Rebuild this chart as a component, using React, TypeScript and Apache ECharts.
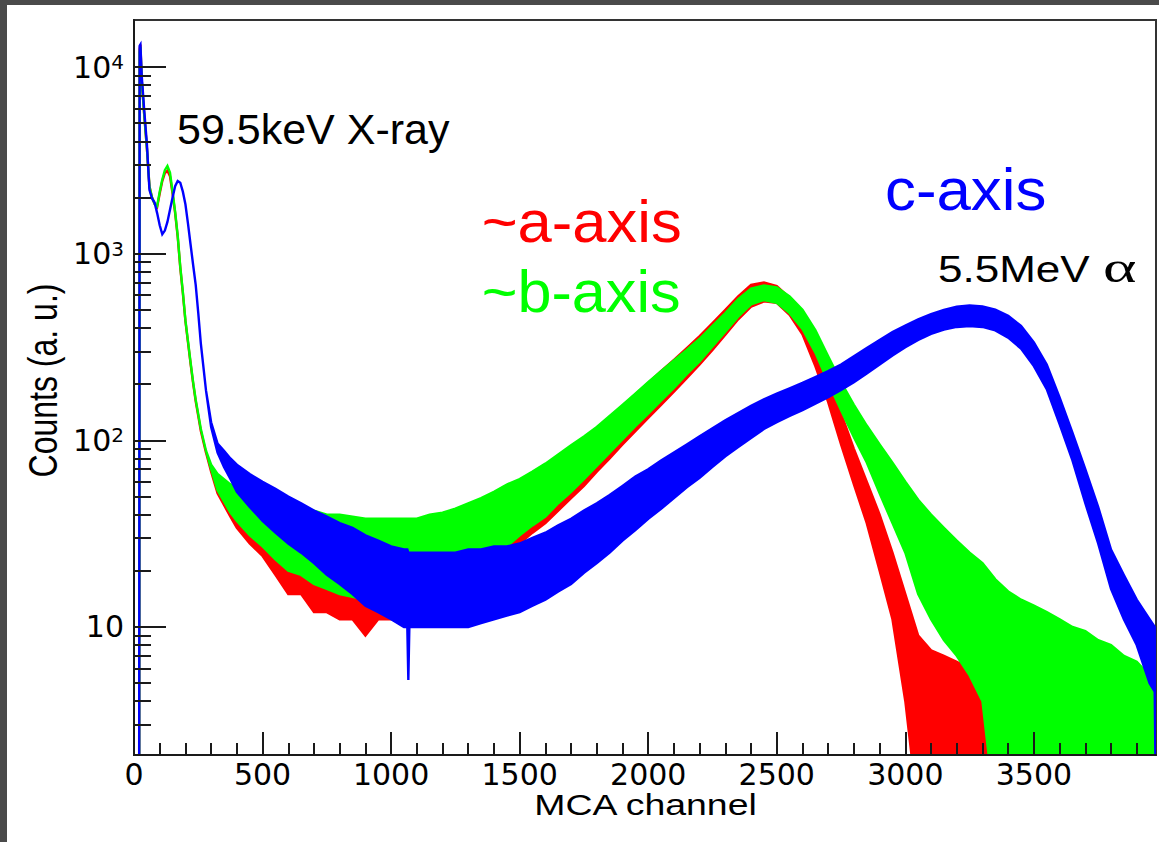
import React, { useEffect, useRef } from "react";
import * as echarts from "echarts";

// MCA channel grid (shared by all three spectra)
const channels = [
  0, 20, 22, 25, 30, 40, 50, 60, 70, 80,
  90, 100, 110, 120, 130, 140, 150, 160, 170, 180,
  190, 200, 210, 220, 230, 240, 250, 260, 280, 300,
  325, 350, 375, 400, 450, 500, 550, 600, 650, 700,
  750, 800, 850, 900, 950, 1000, 1050, 1063, 1067, 1071,
  1100, 1150, 1200,
  1250, 1300, 1350, 1400, 1450, 1500, 1550, 1600, 1650, 1700,
  1750, 1800, 1850, 1900, 1950, 2000, 2050, 2100, 2150, 2200,
  2250, 2300, 2350, 2400, 2450, 2500, 2550, 2600, 2650, 2700,
  2750, 2800, 2850, 2900, 2950, 3000, 3050, 3100, 3150, 3200,
  3250, 3300, 3350, 3400, 3450, 3500, 3550, 3600, 3650, 3700,
  3750, 3800, 3850, 3900, 3950, 3970, 3975,
];

// ~a-axis (red): lower / upper edge of the noisy histogram band
const redLow = [
  1, 1, 12500, 13200, 8500, 5500, 3700, 2300, 2000, 1850,
  1780, 2100, 2450, 2700, 2780, 2600, 2100, 1650, 1230, 840,
  615, 435, 335, 258, 202, 162, 135, 112, 86, 68,
  52, 45, 39, 34, 28, 24, 19, 15, 15, 12,
  12, 11, 11, 9, 11, 11, 11.5, 11.5, 11.5, 11.5,
  12, 13, 14,
  15, 17, 19, 22, 25, 28, 32, 36, 42, 49,
  57, 68, 80, 95, 112, 132, 155, 182, 215, 255,
  305, 368, 445, 520, 555, 545, 470, 370, 250, 160,
  95, 58, 36, 20, 11, 4, 1, 1, 1, 1,
  1, 1, 1, 1, 1, 1, 1, 1, 1, 1,
  1, 1, 1, 1, 1, 1, 1,
];
const redHigh = [
  1, 1, 12500, 13200, 8500, 5500, 3700, 2300, 2000, 1850,
  1780, 2100, 2450, 2700, 2780, 2600, 2100, 1650, 1230, 840,
  615, 435, 335, 258, 202, 162, 135, 112, 86, 72,
  64, 60, 56, 53, 49, 46, 43, 41, 40, 39,
  38, 37, 37, 36, 36, 36, 36, 36, 36, 36,
  37, 38, 39,
  41, 44, 47, 51, 56, 60, 66, 72, 81, 91,
  102, 115, 132, 152, 176, 203, 235, 270, 312, 362,
  425, 500, 590, 680, 700, 670, 580, 470, 330, 220,
  140, 90, 60, 40, 25, 15, 9, 7.5, 7, 6.5,
  6, 5, 4, 3.7, 3.5, 3.2, 2.6, 2.8, 2.2, 2.8,
  1.5, 1, 1, 1, 1, 1, 1,
];

// ~b-axis (green)
const greenLow = [
  1, 1, 12000, 12800, 8500, 5500, 3700, 2300, 2000, 1850,
  1800, 2150, 2500, 2800, 2950, 2720, 2150, 1680, 1250, 850,
  625, 440, 340, 262, 205, 165, 138, 115, 88, 70,
  54, 47, 41, 37, 31, 27, 23, 20, 19, 17,
  16, 15, 14.5, 14, 14, 14, 14, 14, 14, 14,
  14, 15, 16,
  17, 19, 21, 24, 27, 31, 35, 39, 46, 53,
  62, 73, 86, 101, 119, 139, 163, 191, 226, 265,
  318, 382, 460, 535, 565, 545, 480, 395, 295, 205,
  145, 104, 76, 52, 36, 25, 15, 11, 8.5, 7,
  5.5, 4, 1, 1, 1, 1, 1, 1, 1, 1,
  1, 1, 1, 1, 1, 1, 1,
];
const greenHigh = [
  1, 1, 12000, 12800, 8500, 5500, 3700, 2300, 2000, 1850,
  1800, 2150, 2500, 2800, 2950, 2720, 2150, 1680, 1250, 850,
  625, 440, 340, 262, 205, 165, 138, 115, 88, 74,
  66, 62, 58, 56, 52, 48, 46, 45, 42, 42,
  40, 40, 39, 38, 38, 38, 38, 38, 38, 38,
  38, 40, 41,
  43, 46, 49, 53, 58, 62, 68, 75, 84, 94,
  105, 118, 135, 155, 178, 205, 235, 268, 305, 350,
  410, 480, 570, 650, 675, 660, 590, 500, 390, 282,
  205, 155, 120, 95, 76, 60, 48, 40, 34, 29,
  25, 22, 18, 15.5, 14, 13, 12, 11, 10, 9.5,
  8.5, 8, 7, 6.5, 5.5, 5, 1,
];

// c-axis (blue)
const blueLow = [
  1, 1, 13000, 13200, 9000, 5800, 3900, 2200, 1980, 1880,
  1650, 1420, 1270, 1330, 1480, 1720, 2000, 2300, 2450, 2400,
  2150, 1840, 1450, 1120, 870, 680, 480, 330, 185, 118,
  86, 72, 62, 53, 44, 37, 32, 28, 25, 22,
  19, 17, 15, 13, 12, 11, 10, 10, 5.2, 10,
  10, 10, 10,
  10, 10, 10.5, 11, 11.5, 12, 13, 14, 15.5, 17,
  19.5, 22, 25, 29, 33, 38, 43, 49, 56, 63,
  72, 82, 92, 103, 115, 125, 135, 145, 157, 170,
  186, 205, 228, 255, 285, 315, 345, 372, 392, 405,
  410, 405, 388, 355, 310, 250, 188, 122, 78, 46,
  28, 16, 11, 8, 5, 4.5, 1,
];
const blueHigh = [
  1, 1, 13000, 13200, 9000, 5800, 3900, 2200, 1980, 1880,
  1650, 1420, 1270, 1330, 1480, 1720, 2000, 2300, 2450, 2400,
  2150, 1840, 1450, 1120, 870, 680, 480, 330, 185, 125,
  96, 88, 80, 74, 66, 60, 55, 50, 46, 42,
  39, 36, 34, 31, 29, 27, 26, 26, 25, 25,
  25, 25, 25,
  25, 26, 26, 27, 27, 28, 30, 32, 35, 38,
  42, 46, 51, 57, 64, 70, 78, 86, 95, 105,
  116, 128, 140, 153, 166, 178, 190, 203, 218, 235,
  255, 282, 312, 345, 380, 412, 445, 475, 500, 520,
  528, 522, 502, 465, 410, 335, 255, 170, 110, 70,
  44, 26, 19, 14, 11, 10, 1,
];

// Axis ticks
const xMajorTicks = [0, 500, 1000, 1500, 2000, 2500, 3000, 3500];
const xMinorTicks = [
  100, 200, 300, 400, 600, 700, 800, 900, 1100, 1200, 1300, 1400,
  1600, 1700, 1800, 1900, 2100, 2200, 2300, 2400, 2600, 2700, 2800, 2900,
  3100, 3200, 3300, 3400, 3600, 3700, 3800, 3900,
];
const yMajorTicks = [10, 100, 1000, 10000];
const yMinorTicks = [
  3, 4, 5, 6, 7, 8, 9,
  20, 30, 40, 50, 60, 70, 80, 90,
  200, 300, 400, 500, 600, 700, 800, 900,
  2000, 3000, 4000, 5000, 6000, 7000, 8000, 9000,
];

const X_MIN = 0;
const X_MAX = 3975;
const Y_MIN = 2.06;
const Y_MAX = 17870;

const AXIS_COLOR = "#1a1a1a";

function bandSeries(name: string, color: string, lo: number[], hi: number[]) {
  return {
    type: "custom",
    name,
    clip: true,
    xAxisIndex: 0,
    yAxisIndex: 0,
    z: 2,
    data: channels.map((c, i) => [c, lo[i], hi[i]]),
    encode: { x: 0, y: [1, 2] },
    renderItem: (params: any, api: any) => {
      if (params.dataIndex !== 0) return null;
      const upper = channels.map((c, i) => api.coord([c, hi[i]]));
      const lower = channels.map((c, i) => api.coord([c, lo[i]])).reverse();
      return {
        type: "polygon",
        shape: { points: upper.concat(lower) },
        style: { fill: color, stroke: color, lineWidth: 2.4, lineJoin: "miter" },
      };
    },
  };
}

function txt(
  text: string,
  x: number,
  y: number,
  fontSize: number,
  color: string,
  opts: any = {}
) {
  const align = opts.align || "left";
  return {
    type: "text",
    x,
    y,
    z: 20,
    scaleX: opts.scaleX || 1,
    scaleY: opts.scaleY || 1,
    rotation: opts.rotation || 0,
    style: {
      text,
      fontSize,
      fontFamily: opts.fontFamily || "Liberation Sans",
      fill: color,
      align,
      verticalAlign: "middle",
      textAlign: align,
      textVerticalAlign: "middle",
    },
  };
}

export default function App() {
  const ref = useRef<HTMLDivElement>(null);

  useEffect(() => {
    document.body.style.margin = "0";
    if (!ref.current) return;
    const chart = echarts.init(ref.current, null, { renderer: "svg" });

    const tickLine = { color: AXIS_COLOR, width: 2 };

    chart.setOption({
      animation: false,
      backgroundColor: "#ffffff",
      grid: {
        left: 134,
        right: 3,
        top: 20,
        bottom: 87,
        show: true,
        borderColor: "#333333",
        borderWidth: 2,
        backgroundColor: "transparent",
      },
      xAxis: [
        {
          type: "value",
          min: X_MIN,
          max: X_MAX,
          position: "bottom",
          z: 10,
          axisLine: { show: true, onZero: false, lineStyle: { color: AXIS_COLOR, width: 2 } },
          axisTick: {
            show: true,
            inside: true,
            length: 23,
            customValues: xMajorTicks,
            lineStyle: tickLine,
          },
          axisLabel: {
            show: true,
            customValues: xMajorTicks,
            formatter: (v: number) => String(v),
            fontFamily: "DejaVu Sans",
            fontSize: 30,
            lineHeight: 30,
            color: "#000",
            margin: 4,
          },
          splitLine: { show: false },
        },
        {
          type: "value",
          min: X_MIN,
          max: X_MAX,
          position: "bottom",
          z: 10,
          axisLine: { show: false },
          axisTick: {
            show: true,
            inside: true,
            length: 12,
            customValues: xMinorTicks,
            lineStyle: tickLine,
          },
          axisLabel: { show: false },
          splitLine: { show: false },
        },
      ],
      yAxis: [
        {
          type: "log",
          logBase: 10,
          min: Y_MIN,
          max: Y_MAX,
          position: "left",
          z: 10,
          axisLine: { show: true, onZero: false, lineStyle: { color: AXIS_COLOR, width: 2 } },
          axisTick: {
            show: true,
            inside: true,
            length: 32,
            customValues: yMajorTicks,
            lineStyle: tickLine,
          },
          axisLabel: {
            show: true,
            customValues: yMajorTicks,
            margin: 10,
            formatter: (v: number) => {
              const e = Math.round(Math.log10(v));
              return e === 1 ? "{b|10}" : "{b|10}{s|" + e + "}";
            },
            rich: {
              b: { fontFamily: "DejaVu Sans", fontSize: 30, lineHeight: 30, color: "#000" },
              s: {
                fontFamily: "DejaVu Sans",
                fontSize: 20,
                lineHeight: 18,
                verticalAlign: "top",
                color: "#000",
              },
            },
          },
          splitLine: { show: false },
        },
        {
          type: "log",
          logBase: 10,
          min: Y_MIN,
          max: Y_MAX,
          position: "left",
          z: 10,
          axisLine: { show: false },
          axisTick: {
            show: true,
            inside: true,
            length: 17,
            customValues: yMinorTicks,
            lineStyle: tickLine,
          },
          axisLabel: { show: false },
          splitLine: { show: false },
        },
      ],
      series: [
        bandSeries("~a-axis", "#ff0000", redLow, redHigh),
        bandSeries("~b-axis", "#00ff00", greenLow, greenHigh),
        bandSeries("c-axis", "#0000ff", blueLow, blueHigh),
      ],
      graphic: [
        { type: "rect", z: 30, shape: { x: 0, y: 0, width: 1159, height: 5 }, style: { fill: "#4a4a4a" } },
        { type: "rect", z: 30, shape: { x: 0, y: 0, width: 7, height: 842 }, style: { fill: "#4a4a4a" } },
        txt("MCA channel", 645.5, 805.5, 29, "#000", { align: "center", scaleX: 1.29 }),
        txt("Counts (a. u.)", 43, 380.5, 32, "#000", {
          align: "center",
          rotation: Math.PI / 2,
          scaleY: 1.25,
        }),
        txt("59.5keV X-ray", 177, 128.5, 43, "#000"),
        txt("~a-axis", 481.7, 221.5, 60, "#ff0000", { scaleX: 1.025 }),
        txt("~b-axis", 481.7, 290.9, 60, "#00ff00", { scaleX: 1.02 }),
        txt("c-axis", 885, 189.2, 60, "#0000ff", { scaleX: 1.03 }),
        txt("5.5MeV", 938, 268.9, 37, "#000", { scaleX: 1.19 }),
        txt("\u03b1", 1103, 267, 44, "#000", { scaleX: 1.45, fontFamily: "Liberation Serif" }),
      ],
    });

    return () => {
      chart.dispose();
    };
  }, []);

  return <div ref={ref} style={{ width: 1159, height: 842, background: "#fff" }} />;
}
